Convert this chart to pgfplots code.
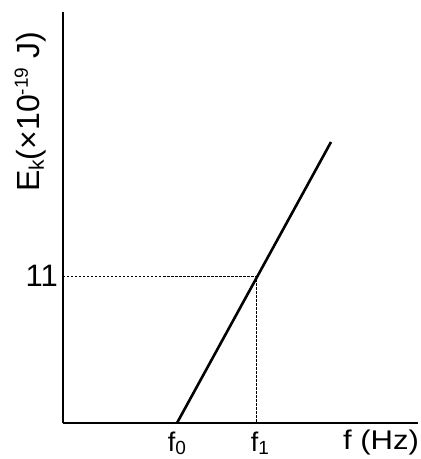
\documentclass[border=0pt]{standalone}
\usepackage{pgfplots}
\pgfplotsset{compat=1.18}
\usepackage{fontspec}
\setmainfont{Liberation Sans}
\newcommand{\xsub}[1]{\raisebox{-3pt}{\fontsize{19}{19}\selectfont #1}}
\begin{document}
\begin{tikzpicture}
\begin{axis}[
  scale only axis,
  width=355pt, height=411pt,
  xmin=0, xmax=355, ymin=0, ymax=30.76,
  axis lines=left,
  axis line style={line width=2.3pt, -},
  clip=false,
  major tick length=0pt,
  xtick={114,197}, xticklabels={f\xsub{0}, f\xsub{1}},
  ytick={11}, yticklabels={11},
  xticklabel style={font=\fontsize{27}{30}\selectfont, inner sep=0pt, anchor=north, yshift=-9pt},
  yticklabel style={font=\fontsize{31}{36}\selectfont, inner sep=0pt, anchor=east, xshift=-5pt},
]
\addplot[black, line width=2.6pt] coordinates {(114,0) (268,21.03)};
\addplot[black, line width=0.8pt, dash pattern=on 2.5pt off 1.5pt] coordinates {(0,11) (193,11) (193,0)};
\coordinate (O) at (rel axis cs:0,0);
\end{axis}
\path (O) ++(-32.5pt,311pt) node[rotate=90, inner sep=0pt, font=\fontsize{32}{36}\selectfont] {E\raisebox{-4pt}{\fontsize{21}{21}\selectfont k}(×10\raisebox{12pt}{\fontsize{19}{19}\selectfont -19} J)};
\path (O) ++(318pt,-20pt) node[inner sep=0pt, xscale=1.15, font=\fontsize{27}{30}\selectfont] {f (Hz)};
\path (O) ++(-63pt,-36pt) rectangle ++(421pt,459pt);
\end{tikzpicture}
\end{document}
